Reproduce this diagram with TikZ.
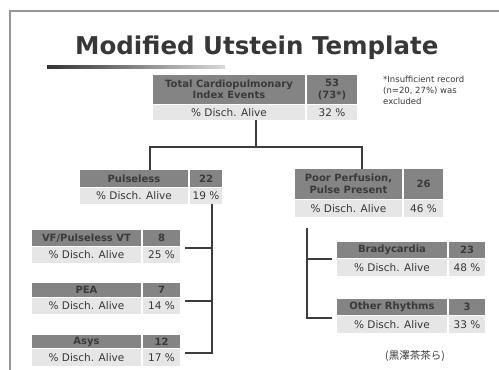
\documentclass[tikz,border=0pt]{standalone}
\usepackage{fontspec}
\setmainfont{DejaVu Sans}
\newfontfamily\cjk{Noto Sans CJK JP}
\definecolor{hdrfill}{RGB}{132,132,132}
\definecolor{hdrtext}{RGB}{58,58,58}
\definecolor{rowfill}{RGB}{230,230,230}
\definecolor{rowtext}{RGB}{55,55,55}
\definecolor{linec}{RGB}{60,60,60}
\definecolor{framec}{RGB}{150,150,150}
\definecolor{titlec}{RGB}{55,55,55}
\newcommand\cellbox[7]{%
  \node[#6, anchor=north west, minimum width={(#4-#2)*1pt}, minimum height={(#5-#3)*1pt}] (#1) at (#2,#3) {#7};}
\begin{document}
\begin{tikzpicture}[x=1pt,y=-1pt,
  hdr/.style={fill=hdrfill, text=hdrtext, inner sep=0pt, outer sep=0pt, font=\fontsize{10}{11.5}\selectfont\bfseries, align=center},
  row/.style={fill=rowfill, text=rowtext, inner sep=0pt, outer sep=0pt, font=\fontsize{10.5}{12}\selectfont, align=center},
  conn/.style={draw=linec, line width=1.3pt},
  frame/.style={draw=framec, line width=1.6pt}]
\useasboundingbox (0,0) rectangle (499,370);
\fill[white] (0,0) rectangle (499,370);
% frame
\draw[frame] (10,370) -- (10,11) -- (499,11);
% title
\node[font=\fontsize{24.5}{28}\selectfont\bfseries, text=titlec, anchor=base west, inner sep=0pt] (title) at (75,54) {Modified Utstein Template};
\shade[left color=black!80, right color=black!15] (47,65.5) rectangle (225,68.5);
% top box
\cellbox{toph}{153}{75}{305}{104}{hdr}{Total Cardiopulmonary\\Index Events}
\cellbox{topn}{307}{75}{357}{104}{hdr}{53\\(73*)}
\cellbox{topr}{153}{105}{305}{120}{row}{\% Disch. Alive}
\cellbox{toprn}{307}{105}{357}{120}{row}{32 \%}
\node[anchor=north west, align=left, text=rowtext, font=\fontsize{8.5}{11}\selectfont, inner sep=0pt] (note) at (383,76) {*Insufficient record\\(n=20, 27\%) was\\excluded};
% pulseless
\cellbox{pulh}{80}{170}{188}{187}{hdr}{Pulseless}
\cellbox{puln}{190}{170}{222}{187}{hdr}{22}
\cellbox{pulr}{80}{188}{188}{204}{row}{\% Disch. Alive}
\cellbox{pulrn}{190}{188}{222}{204}{row}{19 \%}
% poor perfusion
\cellbox{pph}{295}{169}{402}{199}{hdr}{Poor Perfusion,\\Pulse Present}
\cellbox{ppn}{404}{169}{443}{199}{hdr}{26}
\cellbox{ppr}{295}{200}{402}{217}{row}{\% Disch. Alive}
\cellbox{pprn}{404}{200}{443}{217}{row}{46 \%}
% VF
\cellbox{vfh}{32}{230}{141}{246}{hdr}{VF/Pulseless VT}
\cellbox{vfn}{143}{230}{180}{246}{hdr}{8}
\cellbox{vfr}{32}{247}{141}{263}{row}{\% Disch. Alive}
\cellbox{vfrn}{143}{247}{180}{263}{row}{25 \%}
% PEA
\cellbox{peah}{32}{283}{141}{297}{hdr}{PEA}
\cellbox{pean}{143}{283}{180}{297}{hdr}{7}
\cellbox{pear}{32}{298}{141}{314}{row}{\% Disch. Alive}
\cellbox{pearn}{143}{298}{180}{314}{row}{14 \%}
% Asys
\cellbox{asyh}{32}{335}{141}{348}{hdr}{Asys}
\cellbox{asyn}{143}{335}{180}{348}{hdr}{12}
\cellbox{asyr}{32}{349}{141}{366}{row}{\% Disch. Alive}
\cellbox{asyrn}{143}{349}{180}{366}{row}{17 \%}
% Bradycardia
\cellbox{brah}{337}{242}{447}{258}{hdr}{Bradycardia}
\cellbox{bran}{449}{242}{485}{258}{hdr}{23}
\cellbox{brar}{337}{259}{447}{276}{row}{\% Disch. Alive}
\cellbox{brarn}{449}{259}{485}{276}{row}{48 \%}
% Other rhythms
\cellbox{othh}{337}{299}{447}{315}{hdr}{Other Rhythms}
\cellbox{othn}{449}{299}{485}{315}{hdr}{3}
\cellbox{othr}{337}{316}{447}{333}{row}{\% Disch. Alive}
\cellbox{othrn}{449}{316}{485}{333}{row}{33 \%}
\node[font=\cjk\fontsize{10.5}{12}\selectfont, text=rowtext, inner sep=0pt] (ref) at (415,356) {(黒澤茶茶ら)};
% connectors
\coordinate (tj) at (256,147);
\coordinate (lj) at (150,147);
\coordinate (rj) at (362,147);
\draw[conn] (topr.south -| tj) -- (tj);
\draw[conn] (pulh.north -| lj) -- (lj) -- (rj) -- (pph.north -| rj);
% left subtree
\coordinate (lv) at (212,204);
\coordinate (vfj) at (185,248);
\coordinate (peaj) at (185,301);
\coordinate (asyj) at (185,353);
\draw[conn] (pulrn.south -| lv) -- (asyj -| lv) -- (asyj);
\draw[conn] (vfj) -- (vfj -| lv);
\draw[conn] (peaj) -- (peaj -| lv);
% right subtree
\coordinate (rv) at (307,228);
\coordinate (braj) at (332,259);
\coordinate (othj) at (332,318);
\draw[conn] (rv) -- (othj -| rv) -- (othj);
\draw[conn] (braj -| rv) -- (braj);
\end{tikzpicture}
\end{document}
